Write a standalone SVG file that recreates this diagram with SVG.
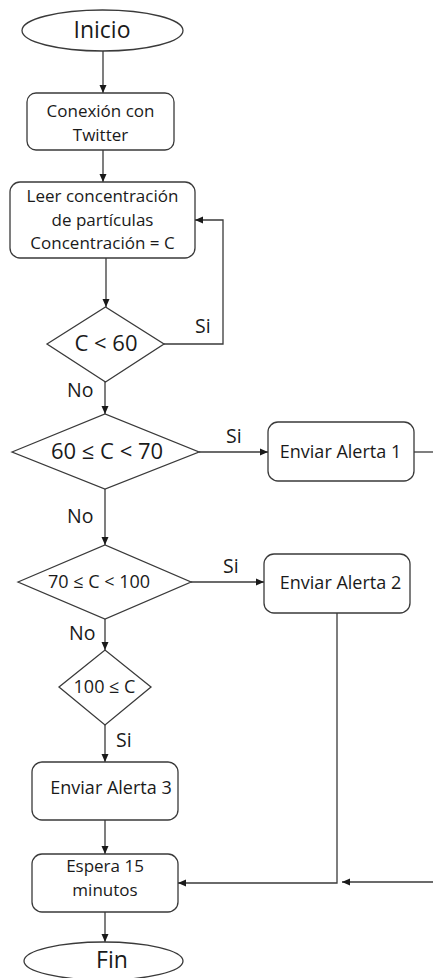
<svg xmlns="http://www.w3.org/2000/svg" width="433" height="978" viewBox="0 0 433 978">
  <style>
    .shape { fill: #ffffff; stroke: #3a3a3a; stroke-width: 1.3; }
    .conn { fill: none; stroke: #3a3a3a; stroke-width: 1.3; }
    text { font-family: "Open Sans", "Noto Sans", sans-serif; fill: #1a1a1a; text-anchor: middle; }
    .big { font-size: 22px; }
    .term { font-size: 23px; }
    .mid { font-size: 18px; }
    .multi { font-size: 17px; }
    .lbl { font-size: 19.5px; text-anchor: start; }
  </style>
  <defs>
    <marker id="arrow" markerWidth="9" markerHeight="8" refX="8" refY="4" orient="auto" markerUnits="userSpaceOnUse">
      <path d="M0,0.5 L8,4 L0,7.5 Z" fill="#1a1a1a"/>
    </marker>
  </defs>
  <rect width="433" height="978" fill="#ffffff"/>

  <!-- connectors -->
  <g id="connectors">
    <line class="conn" x1="103" y1="51" x2="103" y2="93" marker-end="url(#arrow)"/>
    <line class="conn" x1="103" y1="150" x2="103" y2="182" marker-end="url(#arrow)"/>
    <line class="conn" x1="106" y1="258" x2="106" y2="307" marker-end="url(#arrow)"/>
    <polyline class="conn" points="164,344 223,344 223,220 195,220" marker-end="url(#arrow)"/>
    <line class="conn" x1="105" y1="382" x2="105" y2="414" marker-end="url(#arrow)"/>
    <line class="conn" x1="199" y1="452" x2="268" y2="452" marker-end="url(#arrow)"/>
    <line class="conn" x1="414" y1="452" x2="433" y2="452"/>
    <line class="conn" x1="105" y1="489" x2="105" y2="545" marker-end="url(#arrow)"/>
    <line class="conn" x1="191" y1="582" x2="264" y2="582" marker-end="url(#arrow)"/>
    <polyline class="conn" points="337,613 337,883 178,883" marker-end="url(#arrow)"/>
    <line class="conn" x1="105" y1="619" x2="105" y2="650" marker-end="url(#arrow)"/>
    <line class="conn" x1="105" y1="725" x2="105" y2="762" marker-end="url(#arrow)"/>
    <line class="conn" x1="105" y1="820" x2="105" y2="854" marker-end="url(#arrow)"/>
    <line class="conn" x1="433" y1="882" x2="342" y2="882" marker-end="url(#arrow)"/>
    <line class="conn" x1="105" y1="912" x2="105" y2="942" marker-end="url(#arrow)"/>
    <text class="lbl" x="195" y="333">Si</text>
    <text class="lbl" x="67" y="397">No</text>
    <text class="lbl" x="226" y="443">Si</text>
    <text class="lbl" x="67" y="523">No</text>
    <text class="lbl" x="223" y="573">Si</text>
    <text class="lbl" x="69" y="640">No</text>
    <text class="lbl" x="116" y="747">Si</text>
  </g>

  <g id="inicio">
    <ellipse class="shape" cx="102.5" cy="30.5" rx="80.5" ry="20.5"/>
    <text class="term" x="102" y="38">Inicio</text>
  </g>

  <g id="conexion">
    <rect class="shape" x="27" y="93" width="147" height="57" rx="9"/>
    <text class="multi" x="100.5" y="117">Conexión con</text>
    <text class="multi" x="100.5" y="140.5">Twitter</text>
  </g>

  <g id="leer">
    <rect class="shape" x="10" y="182" width="185" height="76" rx="10"/>
    <text class="multi" x="102.5" y="202">Leer concentración</text>
    <text class="multi" x="102.5" y="225.5">de partículas</text>
    <text class="multi" x="102.5" y="249">Concentración = C</text>
  </g>

  <g id="cond-60">
    <polygon class="shape" points="47,344 105.5,307 164,344 105.5,382"/>
    <text class="big" x="106" y="351">C &lt; 60</text>
  </g>

  <g id="cond-60-70">
    <polygon class="shape" points="12,452 105,414 199,452 105,489"/>
    <text class="big" x="107" y="459">60 ≤ C &lt; 70</text>
  </g>

  <g id="alerta-1">
    <rect class="shape" x="268" y="422" width="146" height="59" rx="10"/>
    <text class="mid" x="340.5" y="458">Enviar Alerta 1</text>
  </g>

  <g id="cond-70-100">
    <polygon class="shape" points="18,582 105,545 191,582 105,619"/>
    <text class="mid" x="99" y="588">70 ≤ C &lt; 100</text>
  </g>

  <g id="alerta-2">
    <rect class="shape" x="264" y="554" width="146" height="59" rx="10"/>
    <text class="mid" x="340.5" y="589">Enviar Alerta 2</text>
  </g>

  <g id="cond-100">
    <polygon class="shape" points="59,687 105,650 151,687 105,725"/>
    <text class="mid" x="104.5" y="693">100 ≤ C</text>
  </g>

  <g id="alerta-3">
    <rect class="shape" x="32" y="762" width="146" height="58" rx="10"/>
    <text class="mid" x="111" y="794">Enviar Alerta 3</text>
  </g>

  <g id="espera">
    <rect class="shape" x="32" y="854" width="146" height="58" rx="10"/>
    <text class="multi" x="105" y="872">Espera 15</text>
    <text class="multi" x="105" y="895.5">minutos</text>
  </g>

  <g id="fin">
    <ellipse class="shape" cx="103.5" cy="961" rx="79.5" ry="19"/>
    <text class="term" x="112" y="968">Fin</text>
  </g>
</svg>
